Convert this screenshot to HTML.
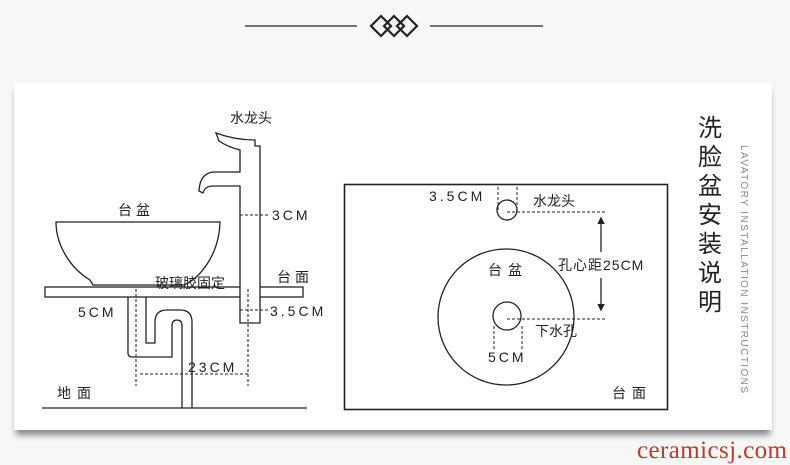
<!DOCTYPE html>
<html><head><meta charset="utf-8"><style>
body{margin:0;width:790px;height:465px;background:#f7f7f7;position:relative;overflow:hidden;font-family:"Liberation Sans","Noto Sans CJK SC",sans-serif}
.card{position:absolute;left:14px;top:83px;width:758px;height:347px;background:#fff;box-shadow:0 7px 6px -2px #888}
svg{position:absolute;left:0;top:0}
</style></head><body>
<div class="card"></div>
<svg width="790" height="465" font-family="Liberation Sans, Noto Sans CJK SC, sans-serif" fill="none" stroke="#222" stroke-width="1.3">
<line x1="245" y1="26" x2="357" y2="26"/><line x1="430" y1="26" x2="543" y2="26"/>
<g stroke-width="2.2"><path d="M384 26l10-10 10 10-10 10z"/><path d="M371 26l10-10 10 10-10 10z"/><path d="M397 26l10-10 10 10-10 10z"/></g>
<!-- basin -->
<path d="M56 222H220C219 255 200 278 184 285H93L90 280C70 268 56 245 56 222Z" fill="#fff"/>
<rect x="45" y="287" width="258" height="10" fill="#fff"/>
<!-- drain -->
<path d="M128 297V353Q128 357 132 357H172V326Q172 320 177 320Q182 320 182 326V408" />
<path d="M146 297V343H155V322Q155 310 167 310H180Q192 310 192 322V408"/>
<line x1="42" y1="408" x2="307" y2="408"/>
<!-- faucet -->
<path d="M216 133Q235 140 255 140V146H260V323H240V193H240V186H213Q205 186 203 193L199 191Q200 172 215 172H240V150Q228 147 219 141Z" fill="#fff"/>
<g stroke-width="1" stroke-dasharray="3,2">
<line x1="136" y1="289" x2="136" y2="386"/><line x1="248" y1="289" x2="248" y2="386"/>
<line x1="140" y1="374" x2="248" y2="374"/>
<line x1="240" y1="215" x2="270" y2="215"/><line x1="240" y1="310" x2="268" y2="310"/>
<line x1="498" y1="187" x2="498" y2="210"/><line x1="517" y1="187" x2="517" y2="210"/>
<line x1="507" y1="212" x2="606" y2="212"/><line x1="507" y1="319" x2="606" y2="319"/>
<line x1="494" y1="326" x2="494" y2="350"/><line x1="522" y1="326" x2="522" y2="350"/>
</g>
<rect x="344.5" y="184.5" width="323" height="225" stroke-width="1.6"/>
<circle cx="507" cy="210" r="10"/><circle cx="506" cy="317" r="68"/><circle cx="507" cy="316" r="14"/>
<line x1="601" y1="220" x2="601" y2="252"/><line x1="601" y1="278" x2="601" y2="308"/>
<path d="M598 224l3-6 3 6M598 304l3 6 3-6" fill="#222"/>
<g fill="#222" stroke="none" font-size="14">
<text x="230" y="123">水龙头</text><text x="118" y="215" letter-spacing="4">台盆</text>
<text x="272" y="220" letter-spacing="3">3CM</text><text x="277" y="282" letter-spacing="4">台面</text>
<text x="155" y="288">玻璃胶固定</text><text x="78" y="317" letter-spacing="3">5CM</text>
<text x="270" y="316" letter-spacing="3">3.5CM</text><text x="188" y="372" letter-spacing="3">23CM</text>
<text x="57" y="398" letter-spacing="6">地面</text>
<text x="429" y="201" letter-spacing="3">3.5CM</text><text x="533" y="206">水龙头</text>
<text x="558" y="270" letter-spacing="1">孔心距25CM</text><text x="488" y="275" letter-spacing="6">台盆</text>
<text x="535" y="336">下水孔</text><text x="488" y="362" letter-spacing="3">5CM</text>
<text x="612" y="398" letter-spacing="6">台面</text>
<text x="698" y="136" font-size="24">洗</text><text x="698" y="165" font-size="24">脸</text>
<text x="698" y="194" font-size="24">盆</text><text x="698" y="223" font-size="24">安</text>
<text x="698" y="252" font-size="24">装</text><text x="698" y="281" font-size="24">说</text>
<text x="698" y="310" font-size="24">明</text>
<text transform="translate(741 145) rotate(90)" font-size="10" fill="#888" textLength="248">LAVATORY INSTALLATION INSTRUCTIONS</text>
<text x="637" y="458" font-size="25" fill="#c0392b" font-family="Liberation Serif, serif" textLength="150">ceramicsj.com</text>
</g>
</svg>
</body></html>
